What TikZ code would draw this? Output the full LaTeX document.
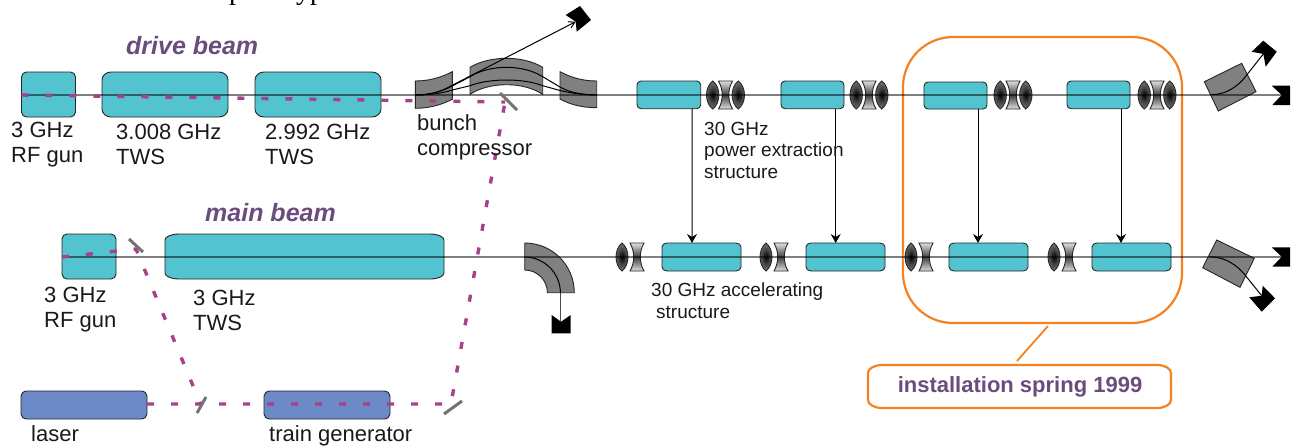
\documentclass[tikz,border=0pt]{standalone}
\usepackage{fontspec}
\setmainfont{Liberation Sans}
\newfontfamily\topserif{Liberation Serif}
\usetikzlibrary{calc,arrows.meta}
\definecolor{teal1}{HTML}{52C3CF}
\definecolor{blue1}{HTML}{6C8AC7}
\definecolor{purp}{HTML}{6A4C7D}
\definecolor{dashc}{HTML}{A8408A}
\definecolor{orng}{HTML}{F58220}
\definecolor{magg}{HTML}{808080}
\pgfdeclareradialshading{lensball}{\pgfpoint{0bp}{0bp}}{color(0bp)=(black);color(12bp)=(black!75);color(30bp)=(black!45);color(50bp)=(black!22);color(100bp)=(black!22)}
\tikzset{
  lbl/.style={anchor=base west,inner sep=0pt,align=left,text=black!90,font=\fontsize{22}{25}\selectfont},
  smalllbl/.style={anchor=base west,inner sep=0pt,align=left,text=black!90,font=\fontsize{19}{21.5}\selectfont},
  ttl/.style={anchor=base west,inner sep=0pt,text=purp,font=\fontsize{25}{30}\selectfont\bfseries\itshape},
  anchorbox/.style={inner sep=0pt,outer sep=0pt,draw=none},
  edgeb/.style={draw=black!85,line width=0.9pt},
  beam/.style={draw=black,opacity=.5,line width=1.3pt},
  thin1/.style={draw=black,line width=1pt},
  laserpath/.style={draw=dashc,line width=3.4pt,dash pattern=on 7pt off 17pt},
  mirror/.style={draw=black!55,line width=3pt},
  magnet/.style={fill=magg,draw=black!85,line width=0.9pt},
  dump/.style={fill=black,draw=none},
  feed/.style={draw=black,line width=1pt,-{Stealth[length=9pt,width=10pt]}},
  barb/.style={draw=black,line width=1pt,-{Straight Barb[length=6pt,width=7pt]}},
  orangeb/.style={draw=orng,line width=2.2pt},
}
% name, x1, y1, x2, y2, rx, ry, style
\newcommand{\ebox}[8]{%
  \pgfmathsetmacro{\bw}{#4-#2}\pgfmathsetmacro{\bh}{#5-#3}%
  \node[anchorbox,minimum width=\bw pt,minimum height=\bh pt] (#1) at ({(#2+#4)/2},{(#3+#5)/2}) {};
  \path[#8] ([xshift=#6pt]#1.north west) -- ([xshift=-#6pt]#1.north east)
    arc[start angle=90,end angle=0,x radius=#6pt,y radius=#7pt]
    -- ([yshift=#7pt]#1.south east)
    arc[start angle=0,end angle=-90,x radius=#6pt,y radius=#7pt]
    -- ([xshift=#6pt]#1.south west)
    arc[start angle=-90,end angle=-180,x radius=#6pt,y radius=#7pt]
    -- ([yshift=-#7pt]#1.north west)
    arc[start angle=180,end angle=90,x radius=#6pt,y radius=#7pt] -- cycle;
}
% lens: centre x, centre y, half width, half height
\newcommand{\lensshape}[4]{%
  \draw[white,line width=3pt] ({#1},{#2-#4}) .. controls ({#1+#3*1.33},{#2-#4*.55}) and ({#1+#3*1.33},{#2+#4*.55}) .. ({#1},{#2+#4})
     .. controls ({#1-#3*1.33},{#2+#4*.55}) and ({#1-#3*1.33},{#2-#4*.55}) .. cycle;
  \path[edgeb,shading=lensball] ({#1},{#2-#4}) .. controls ({#1+#3*1.33},{#2-#4*.55}) and ({#1+#3*1.33},{#2+#4*.55}) .. ({#1},{#2+#4})
     .. controls ({#1-#3*1.33},{#2+#4*.55}) and ({#1-#3*1.33},{#2-#4*.55}) .. cycle;
}
% hourglass: centre x, centre y, half width, half height
\newcommand{\hourglass}[4]{%
  \path[edgeb,top color=black!12,bottom color=black!12,middle color=black!75]
    ({#1-#3},{#2-#4}) -- ({#1+#3},{#2-#4}) .. controls ({#1+#3*.3},{#2-#4*.4}) and ({#1+#3*.3},{#2+#4*.4}) .. ({#1+#3},{#2+#4})
    -- ({#1-#3},{#2+#4}) .. controls ({#1-#3*.3},{#2+#4*.4}) and ({#1-#3*.3},{#2-#4*.4}) .. cycle;
}
\begin{document}
\begin{tikzpicture}[x=1pt,y=-1pt]
\useasboundingbox (0,0) rectangle (1295,445);
\begin{scope}
\clip (0,0) rectangle (1295,445);
\node[anchor=base west,inner sep=0pt,font=\fontsize{28}{30}\selectfont\topserif] (toptext) at (229,-1) {prototype};
\end{scope}

% named coordinates
\coordinate (dstart) at (21.5,95);
\coordinate (dend) at (1281.7,95);
\coordinate (mstart) at (62,257);
\coordinate (mend) at (1281.7,257);
\coordinate (splitter) at (201,405);
\coordinate (mirrorA) at (136,249);
\coordinate (mirrorB) at (505,102);
\coordinate (mirrorC) at (451,404);

% orange frame
\ebox{frame}{903}{37}{1182}{323}{50}{50}{orangeb}

% drive beam boxes
\ebox{dgun}{21.5}{72}{75.5}{117}{5}{5}{edgeb,fill=teal1}
\ebox{dtws1}{102}{72}{228}{117}{9}{8}{edgeb,fill=teal1}
\ebox{dtws2}{255}{72}{381}{117}{9}{8}{edgeb,fill=teal1}
\ebox{ex1}{637}{81}{700.7}{108.7}{4}{4}{edgeb,fill=teal1}
\ebox{ex2}{781}{81}{844}{108.7}{4}{4}{edgeb,fill=teal1}
\ebox{ex3}{924}{82}{987}{109}{4}{4}{edgeb,fill=teal1}
\ebox{ex4}{1067}{81}{1130}{108.7}{4}{4}{edgeb,fill=teal1}

% main beam boxes
\ebox{mgun}{62}{234}{116}{279}{5}{5}{edgeb,fill=teal1}
\ebox{mtws}{165}{234}{444}{279}{14}{6}{edgeb,fill=teal1}
\ebox{ac1}{662}{243}{741}{271}{5}{4}{edgeb,fill=teal1}
\ebox{ac2}{806}{243}{885}{271}{5}{4}{edgeb,fill=teal1}
\ebox{ac3}{949}{243}{1028}{271}{5}{4}{edgeb,fill=teal1}
\ebox{ac4}{1092}{243}{1171}{271}{5}{4}{edgeb,fill=teal1}

% laser boxes
\ebox{laser}{21}{391}{147}{419}{6}{5}{edgeb,fill=blue1}
\ebox{train}{264}{391}{390}{419}{6}{5}{edgeb,fill=blue1}

% bunch compressor magnets
\path[magnet] (415.3,81) .. controls (430,81) and (442,77) .. (452.3,71.7) -- (452.3,99.3) .. controls (442,104.5) and (430,108.3) .. (415.3,108.3) -- cycle;
\path[magnet] (470,67.3) .. controls (490,55.3) and (523,55.3) .. (542.7,67.3) -- (542.7,94.3) .. controls (523,81.5) and (490,81.5) .. (470,94.3) -- cycle;
\path[magnet] (596.7,81) .. controls (582,81) and (570,77) .. (560,71.7) -- (560,99) .. controls (570,104.5) and (582,107.7) .. (596.7,107.7) -- cycle;
\draw[thin1] (415.3,95) .. controls (430,95) and (443,91) .. (452.3,86) -- (470,76.7) .. controls (490,64.2) and (523,64.2) .. (542.7,76.7) -- (560,87) .. controls (570,93) and (585,95) .. (597,95);
\draw[thin1] (415.3,95) .. controls (430,95) and (443,93) .. (452.3,90) -- (470,85.7) .. controls (490,78.1) and (523,78.1) .. (542.7,85.7) -- (560,90.5) .. controls (570,93) and (585,95) .. (597,95);

% lenses, drive line
\foreach \cx in {725.5,869,1013,1157}{
  \hourglass{\cx}{95}{7}{14}
  \lensshape{\cx-12.8}{95}{6.2}{14}
  \lensshape{\cx+12.8}{95}{6.2}{14}
}
% lenses, main line
\foreach \cx in {622,766,911,1054}{
  \lensshape{\cx}{257}{6}{14}
  \hourglass{\cx+15}{257}{7}{14}
}

% main-line dipole
\path[magnet] (524.7,243) .. controls (552,243) and (574.3,265) .. (574.3,292.7) -- (547.4,292.7) .. controls (547.4,280) and (537,270) .. (524.7,270) -- cycle;
\coordinate (bendend) at (560.4,292.7);
\draw[thin1] (524.7,257) .. controls (544,257) and (560.4,273) .. (bendend);

% end magnets
\path[magnet] (1204.3,81.7) -- (1241.7,63.3) -- (1256,91.7) -- (1218.3,111) -- cycle;
\path[magnet] (1216.7,240) -- (1254.3,258.3) -- (1240,287.3) -- (1202.7,267.7) -- cycle;
\coordinate (bendtop) at (1246.7,75);
\coordinate (bendbot) at (1245,275);
\draw[thin1] (1211.7,94.5) .. controls (1225,95) and (1238,87) .. (bendtop);
\draw[thin1] (1210,256.7) .. controls (1225,257) and (1237,265) .. (bendbot);

% dumps
\fill[dump] (565.7,15) -- (580,6) -- (591,20) -- (576.7,31.7) -- (575.7,21.7) -- cycle;
\fill[dump] (1251.7,51.7) -- (1263.3,40.7) -- (1276.7,51.7) -- (1265.7,66.7) -- (1263.3,54) -- cycle;
\fill[dump] (1271.7,85.7) -- (1290,85.7) -- (1290,105) -- (1272.3,105) -- (1281.7,95) -- cycle;
\fill[dump] (1271.7,247.3) -- (1290,247.3) -- (1290,266.7) -- (1272.3,266.7) -- (1281.7,256.7) -- cycle;
\fill[dump] (1249.3,297.3) -- (1261.7,295.7) -- (1262.7,285.7) -- (1275,298.3) -- (1261.7,311.7) -- cycle;
\fill[dump] (551.7,315) -- (561,321.7) -- (570.7,315) -- (570.7,333.3) -- (551.7,333.3) -- cycle;

% beam lines
\draw[beam] (dstart) -- (dend);
\draw[beam] (mstart) -- (mend);

% branches to the dumps
\coordinate (dumpA) at (575.7,21.7);
\coordinate (dumpB) at (1263.3,54);
\coordinate (dumpC) at (1261.7,295.7);
\coordinate (dumpD) at (560.4,321);
\draw[barb] (415.3,95) .. controls (430,95) and (438,92) .. (445,89) -- (dumpA);
\draw[thin1] (bendtop) -- (dumpB);
\draw[thin1] (bendbot) -- (dumpC);
\draw[draw=black,opacity=.7,line width=1pt] (bendend) -- (dumpD);

% power feeds
\draw[feed] ([xshift=23.15pt]ex1.south) -- ([xshift=-9.5pt]ac1.north);
\draw[feed] ([xshift=23.2pt]ex2.south) -- ([xshift=-9.8pt]ac2.north);
\draw[feed] ([xshift=22.5pt]ex3.south) -- ([xshift=-10.5pt]ac3.north);
\draw[feed] ([xshift=22.5pt]ex4.south) -- ([xshift=-10.5pt]ac4.north);

% laser paths
\draw[laserpath] (dstart) -- (mirrorB);
\draw[laserpath] (laser.east |- mirrorC) -- (mirrorC) -- (mirrorB);
\draw[laserpath] (mstart) -- (mirrorA) -- (splitter);

% mirrors
\draw[mirror] (500,93) -- (517,110);
\draw[mirror] (129,239) -- (143,252);
\draw[mirror] (206,397) -- (197,413);
\draw[mirror] (462,401) -- (444,414);

% callout
\ebox{inst}{868}{365}{1171}{408}{14}{8}{orangeb}
\draw[orangeb,line width=1.8pt] ([xshift=5.5pt,yshift=-3pt]frame.south) -- ([xshift=-2.5pt,yshift=4pt]inst.north);
\node[anchor=base,inner sep=0pt,text=purp,font=\fontsize{22}{26}\selectfont\bfseries] (insttext) at (1020,392) {installation spring 1999};

% titles
\node[ttl] (tdrive) at (126,54) {drive beam};
\node[ttl] (tmain) at (205,221) {main beam};

% labels
\node[lbl] (l1) at (11,162) {3 GHz\\RF gun};
\node[lbl] (l2) at (116,164) {3.008 GHz\\TWS};
\node[lbl] (l3) at (265,164) {2.992 GHz\\TWS};
\node[lbl] (l4) at (417,155) {bunch\\compressor};
\node[lbl] (l5) at (44,327) {3 GHz\\RF gun};
\node[lbl] (l6) at (193,330) {3 GHz\\TWS};
\node[lbl] (l7) at (31,441) {laser};
\node[lbl] (l8) at (269,441) {train generator};
\node[smalllbl] (l9) at (704,178) {30 GHz\\power extraction\\structure};
\node[smalllbl] (l10) at (651,318) {30 GHz accelerating\\\hspace*{5pt}structure};
\end{tikzpicture}
\end{document}
